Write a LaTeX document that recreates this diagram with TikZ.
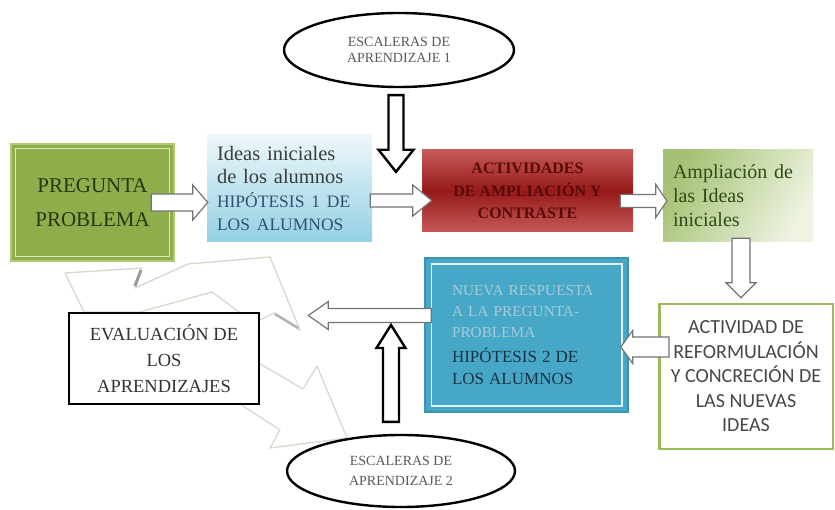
\documentclass[tikz,border=0pt]{standalone}
\usepackage{fontspec}
\setmainfont{Liberation Serif}
\newfontfamily\calibrifont{Carlito}
\usetikzlibrary{%
   shapes.geometric,%
   calc,%
   positioning%
}

\definecolor{pregfill}{HTML}{8DAE4B}
\definecolor{pregline}{HTML}{B0CA78}
\definecolor{preginner}{HTML}{DDE8C2}
\definecolor{pregtext}{HTML}{2B3611}
\definecolor{ideastop}{HTML}{EEF7FB}
\definecolor{ideasbot}{HTML}{93D0E4}
\definecolor{ideastext}{HTML}{3C3C3C}
\definecolor{hiptext}{HTML}{33506E}
\definecolor{actedge}{HTML}{C65A57}
\definecolor{actmid}{HTML}{961A1A}
\definecolor{acttext}{HTML}{5A0A0A}
\definecolor{ampdark}{HTML}{A5C274}
\definecolor{amplight}{HTML}{EEF3E2}
\definecolor{amptext}{HTML}{2F4A14}
\definecolor{reformline}{HTML}{9BBB59}
\definecolor{nuevafill}{HTML}{46A8C6}
\definecolor{nuevaline}{HTML}{3B93AE}
\definecolor{nuevafaint}{HTML}{A6CBD8}
\definecolor{nuevadark}{HTML}{1B3147}
\definecolor{boltline}{HTML}{D6DACB}

% hollow block arrow: [style]{from}{to}{shaft half}{head half}{head length}
\newcommand{\blockarrow}[6][]{%
  \draw[#1] ($(#2)!#4!90:(#3)$)
    -- ($(#3)!#6!(#2)!#4!-90:(#2)$)
    -- ($(#3)!#6!(#2)!#5!-90:(#2)$)
    -- (#3)
    -- ($(#3)!#6!(#2)!#5!90:(#2)$)
    -- ($(#3)!#6!(#2)!#4!90:(#2)$)
    -- ($(#2)!#4!-90:(#3)$) -- cycle;}

\begin{document}
\begin{tikzpicture}[x=1pt,y=-1pt,
	stairs/.style={
	ellipse,draw=black,line width=2.4pt,fill=white,
	minimum width=230pt,minimum height=74pt,inner sep=0pt,
	align=center,text=black!65,font=\fontsize{14}{15.5}\selectfont
	},plainbox/.style={
	rectangle,inner sep=0pt
	},hollow/.style={
	fill=white,draw=black!55,line width=1.2pt,line join=miter
	},boldhollow/.style={
	fill=white,draw=black,line width=2.4pt,line join=miter
	},bolt/.style={
	fill=white,draw=boltline,line width=1.3pt,line join=round
	}
]
\useasboundingbox (0,0) rectangle (835,510);

% zigzag shapes behind the evaluation box
\draw[bolt] (65,273) -- (142,268) -- (135,288) -- (188,264) -- (270,257)
	-- (300,330) -- (274,313) -- (254,323) -- (212,292) -- (140,312)
	-- (84,312) -- cycle;
\draw[black!40,line width=3pt] (141,270) -- (135,286);
\draw[black!30,line width=2.5pt] (298,328) -- (275,314);
\draw[bolt] (250,358) -- (303,389) -- (317,366) -- (347,438) -- (270,448)
	-- (280,430) -- (240,404) -- cycle;

% first row
\node (esc1) [stairs] at (399,50) {ESCALERAS DE\\APRENDIZAJE 1};
\node (preg) [plainbox,fill=pregfill,draw=pregline,line width=2.5pt,
	minimum width=163pt,minimum height=117pt,align=center,text=pregtext,
	font=\fontsize{21}{34}\selectfont] at (92.5,202.5) {PREGUNTA\\PROBLEMA};
\draw[preginner,line width=1.2pt] ($(preg.north west)+(6,6)$) rectangle ($(preg.south east)+(-6,-6)$);
\node (ideas) [plainbox,top color=ideastop,bottom color=ideasbot,
	minimum width=165pt,minimum height=107pt,text width=145pt,inner xsep=10pt,
	align=left,text=ideastext,font=\fontsize{20.5}{23.5}\selectfont] at (289.5,188.5)
	{Ideas iniciales\\de los alumnos\\{\fontsize{17.5}{23.5}\selectfont\color{hiptext}HIPÓTESIS 1 DE\\LOS ALUMNOS}};
\node (act) [plainbox,top color=actedge,bottom color=actedge,middle color=actmid,
	minimum width=211pt,minimum height=82pt,align=center,text=acttext,
	font=\bfseries\fontsize{16}{22.5}\selectfont] at (527.5,191) {ACTIVIDADES\\DE AMPLIACIÓN Y\\CONTRASTE};
\node (amp) [plainbox,left color=ampdark,right color=amplight,shading angle=60,
	minimum width=150pt,minimum height=92pt,text width=130pt,inner xsep=10pt,
	align=left,text=amptext,font=\fontsize{20}{24}\selectfont] at (738,196)
	{Ampliación de\\las Ideas\\iniciales};

% second row
\node (reform) [plainbox,fill=white,draw=reformline,line width=2.5pt,
	minimum width=173.5pt,minimum height=145pt,align=center,text=black!72,
	font=\calibrifont\fontsize{20}{24.5}\selectfont] at (746,376.5)
	{ACTIVIDAD DE\\REFORMULACIÓN\\Y CONCRECIÓN DE\\LAS NUEVAS\\IDEAS};
\node (nueva) [plainbox,fill=nuevafill,draw=nuevaline,line width=1.5pt,
	minimum width=203pt,minimum height=154pt,text width=149pt,inner xsep=27pt,
	align=left,font=\fontsize{15.3}{21}\selectfont] at (526.5,335)
	{{\color{nuevafaint}NUEVA RESPUESTA\\A LA PREGUNTA-\\PROBLEMA\par}\vspace{3pt}%
	{\fontsize{17}{22}\selectfont\color{nuevadark}HIPÓTESIS 2 DE\\LOS ALUMNOS\par}};
\draw[white!85!nuevafill,line width=1.5pt] ($(nueva.north west)+(7,7)$) rectangle ($(nueva.south east)+(-7,-7)$);
\node (eval) [plainbox,fill=white,draw=black,line width=2.6pt,
	minimum width=190pt,minimum height=91pt,align=center,text=black!80,
	font=\fontsize{18.5}{26}\selectfont] at (164,358.5) {EVALUACIÓN DE\\LOS\\APRENDIZAJES};
\node (esc2) [stairs,minimum width=228pt,minimum height=72pt,
	font=\fontsize{14}{20}\selectfont] at (401,471) {ESCALERAS DE\\APRENDIZAJE 2};

% arrow ends
\coordinate (stairsdown) at ($(esc1.south)+(-3,7)$);
\coordinate (actdown) at ($(stairsdown |- act.north)+(0,22)$);
\coordinate (pregout) at ($(preg.east)+(-24,0)$);
\coordinate (ideasin) at ($(preg.east -| ideas.west)+(1,0)$);
\coordinate (ideasout) at ($(ideas.east)+(-2,12)$);
\coordinate (actin) at ($(ideasout -| act.west)+(10,0)$);
\coordinate (actout) at ($(act.east)+(-13,10)$);
\coordinate (ampin) at ($(actout -| amp.west)+(4,0)$);
\coordinate (ampout) at ($(amp.south)+(3,-4)$);
\coordinate (reformin) at ($(ampout |- reform.north)+(0,-5)$);
\coordinate (reformout) at ($(reform.west)+(11,-29.5)$);
\coordinate (nuevain) at ($(reformout -| nueva.east)+(-8,0)$);
\coordinate (nuevaout) at ($(nueva.west)+(7,-19.5)$);
\coordinate (evalin) at ($(nuevaout -| eval.east)+(48,0)$);
\coordinate (stairsup) at ($(esc2.north)+(-10,-12)$);
\coordinate (nuevaup) at ($(stairsup |- nueva.west)+(0,-10)$);

\blockarrow[boldhollow]{stairsdown}{actdown}{7.5pt}{17.5pt}{22pt}
\blockarrow[hollow]{pregout}{ideasin}{8.5pt}{17.5pt}{15pt}
\blockarrow[hollow]{ideasout}{actin}{6.5pt}{15.5pt}{19pt}
\blockarrow[hollow]{actout}{ampin}{6.5pt}{16.5pt}{11pt}
\blockarrow[hollow]{ampout}{reformin}{9pt}{15pt}{15pt}
\blockarrow[hollow]{reformout}{nuevain}{10pt}{16.5pt}{12pt}
\blockarrow[hollow]{nuevaout}{evalin}{7pt}{14pt}{20pt}
\blockarrow[boldhollow]{stairsup}{nuevaup}{8pt}{14.5pt}{23pt}

\end{tikzpicture}
\end{document}
